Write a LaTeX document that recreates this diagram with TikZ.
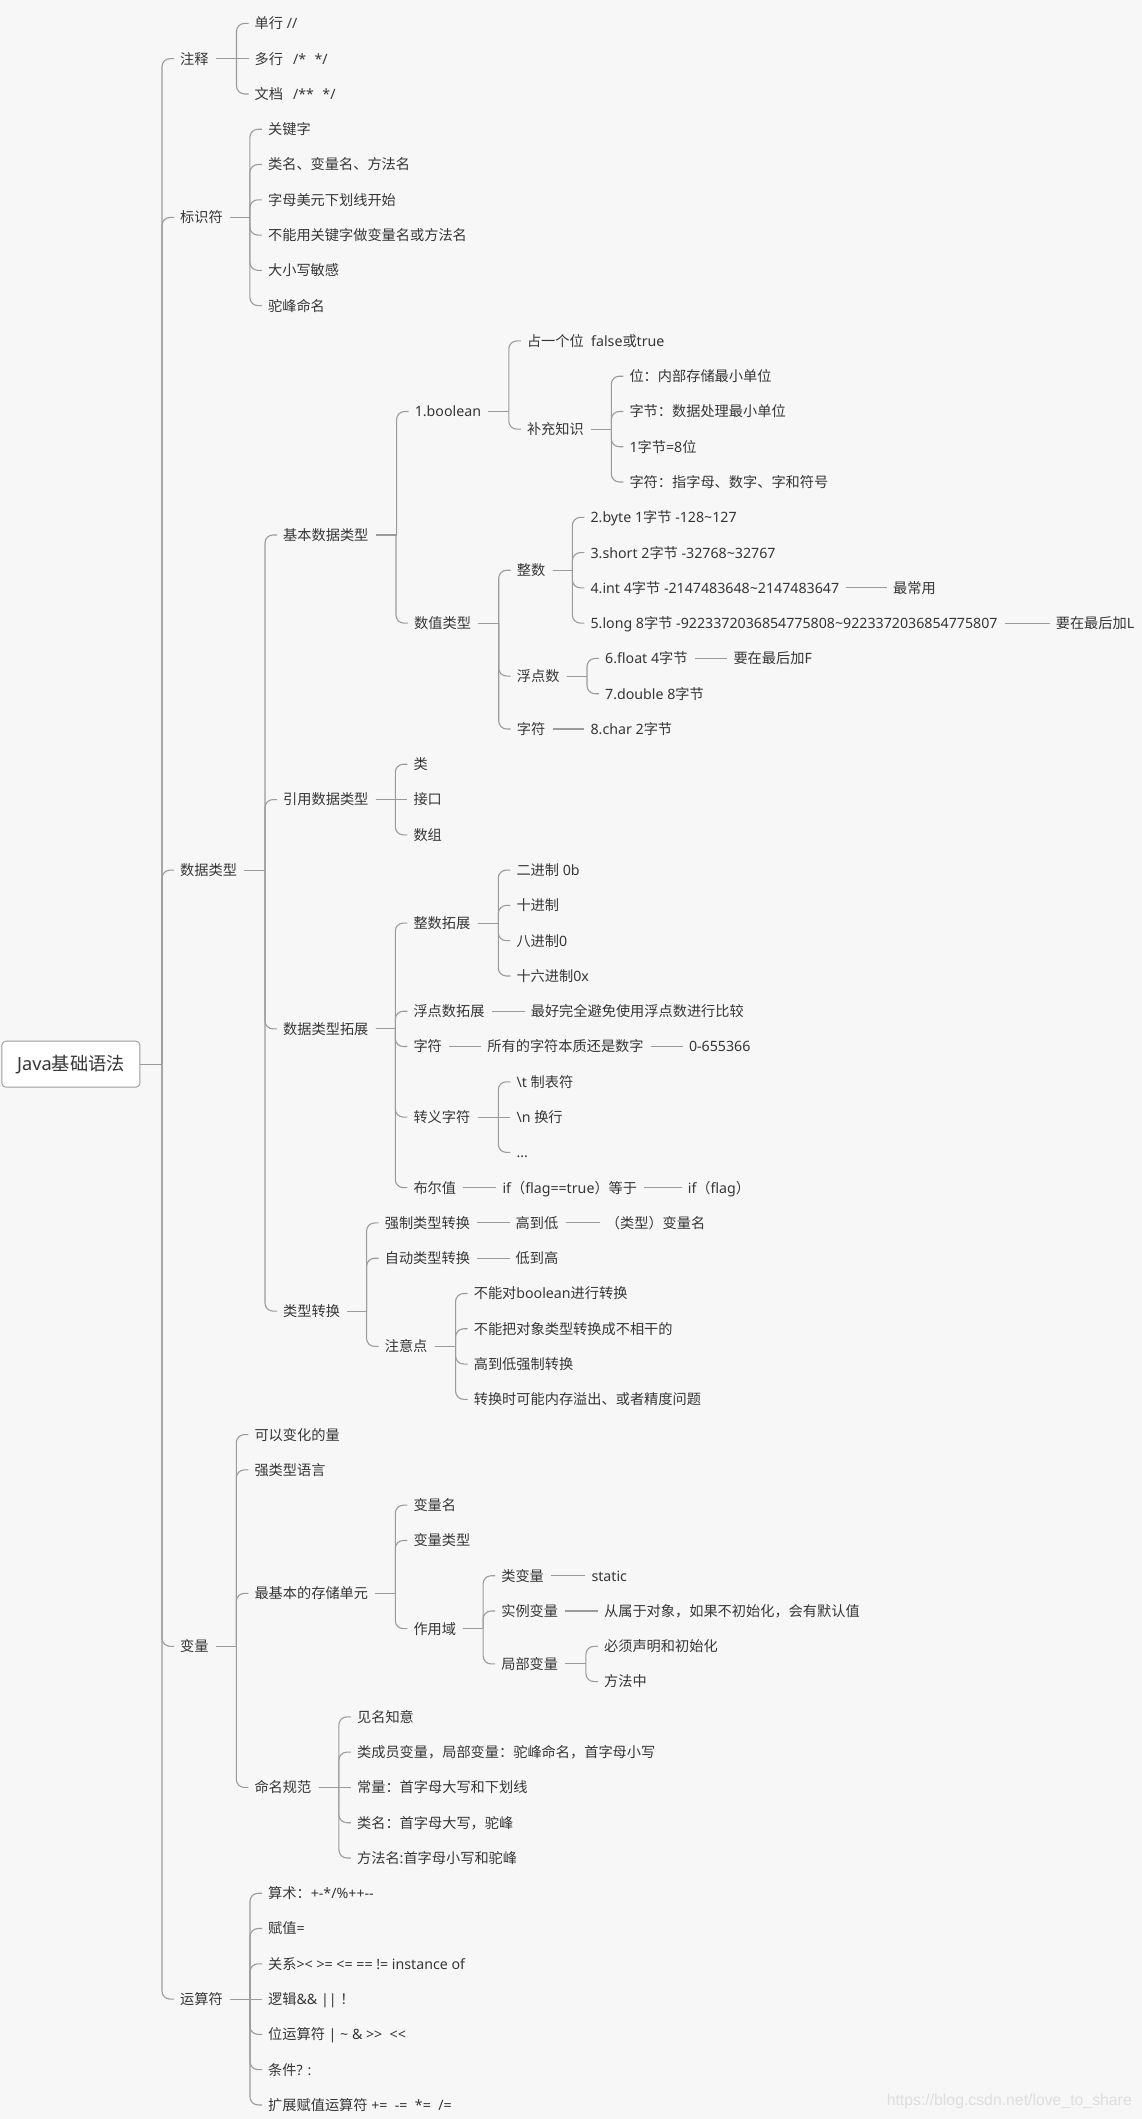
\documentclass[tikz,border=0pt]{standalone}
\usepackage{fontspec}
\newfontfamily\latinfont{Noto Sans}
\newfontfamily\cjkfont{Noto Sans CJK SC}
\newfontfamily\markfont{Liberation Sans}
\XeTeXinterchartokenstate=1
\chardef\cjkclass=7
\newcount\cjkcode
\def\setcjkrange#1#2{\cjkcode=#1 \loop\XeTeXcharclass\cjkcode=\cjkclass \advance\cjkcode by 1 \ifnum\cjkcode<#2 \repeat}
\setcjkrange{"3000}{"3040}
\setcjkrange{"4E00}{"A000}
\setcjkrange{"FF00}{"FFF0}
\XeTeXinterchartoks 0 \cjkclass = {\cjkfont}
\XeTeXinterchartoks 4095 \cjkclass = {\cjkfont}
\XeTeXinterchartoks \cjkclass 0 = {\latinfont}
\XeTeXinterchartoks \cjkclass 4095 = {\latinfont}
\definecolor{bgcol}{HTML}{F7F7F7}
\definecolor{txtcol}{HTML}{363636}
\definecolor{linecol}{HTML}{9B9B9B}
\definecolor{markcol}{HTML}{DEDEDE}
\tikzset{
  leaf/.style={anchor=west, inner sep=0pt, text=txtcol, text height=12pt, text depth=1.2pt,
    font=\latinfont\fontsize{14.2}{17}\selectfont},
  rootbox/.style={draw=linecol, line width=0.9pt, fill=white, rounded corners=4pt,
    minimum width=138pt, minimum height=46pt, inner sep=0pt, text=txtcol,
    font=\latinfont\fontsize{18.2}{22}\selectfont},
  branch/.style={draw=linecol, line width=1.1pt}
}
\begin{document}
\begin{tikzpicture}[x=1pt, y=-35.28pt]
  \path[use as bounding box, fill=bgcol] (0,-0.6633) rectangle (1142,59.399);

  \node[rootbox] (root) at (70.9,29.5) {Java基础语法};
  \node[leaf] (cmt) at (180,1) {注释};
  \node[leaf] (idf) at (180,5.5) {标识符};
  \node[leaf] (dt) at (180,24) {数据类型};
  \node[leaf] (var) at (180,46) {变量};
  \node[leaf] (op) at (180,56) {运算符};

  % comments and identifiers
  \node[leaf] (cmt1) at (254.5,0) {单行 //};
  \node[leaf] (cmt2) at (254.5,1) {多行\hspace{0.7em}/*\hspace{0.6em}*/};
  \node[leaf] (cmt3) at (254.5,2) {文档\hspace{0.7em}/**\hspace{0.6em}*/};
  \foreach \i/\lab in {1/{关键字},2/{类名、变量名、方法名},3/{字母美元下划线开始},
      4/{不能用关键字做变量名或方法名},5/{大小写敏感},6/{驼峰命名}}
    \node[leaf] (idf\i) at (267.9,2+\i) {\lab};

  % data types
  \node[leaf] (prim) at (283,14.5) {基本数据类型};
  \node[leaf] (ref) at (283,22) {引用数据类型};
  \node[leaf] (ext) at (283,28.5) {数据类型拓展};
  \node[leaf] (conv) at (283,36.5) {类型转换};

  \node[leaf] (bool) at (414.6,11) {1.boolean};
  \node[leaf] (num) at (414,17) {数值类型};
  \node[leaf] (bool1) at (526.8,9) {占一个位\ \ false或true};
  \node[leaf] (supp) at (526.8,11.5) {补充知识};
  \foreach \i/\lab in {1/{位：内部存储最小单位},2/{字节：数据处理最小单位},3/{1字节=8位},
      4/{字符：指字母、数字、字和符号}}
    \node[leaf] (supp\i) at (629.3,9+\i) {\lab};

  \node[leaf] (int) at (516.7,15.5) {整数};
  \node[leaf] (flt) at (516.7,18.5) {浮点数};
  \node[leaf] (chr) at (516.7,20) {字符};
  \node[leaf] (int1) at (590.4,14) {2.byte 1字节 -128\textasciitilde 127};
  \node[leaf] (int2) at (590.4,15) {3.short 2字节 -32768\textasciitilde 32767};
  \node[leaf] (int3) at (590.4,16) {4.int 4字节 -2147483648\textasciitilde 2147483647};
  \node[leaf] (int4) at (590.4,17) {5.long 8字节 -9223372036854775808\textasciitilde 9223372036854775807};
  \node[leaf] (int3n) at (893,16) {最常用};
  \node[leaf] (int4n) at (1055.6,17) {要在最后加L};
  \node[leaf] (flt1) at (605,18) {6.float 4字节};
  \node[leaf] (flt1n) at (733.3,18) {要在最后加F};
  \node[leaf] (flt2) at (605,19) {7.double 8字节};
  \node[leaf] (chr1) at (590.4,20) {8.char 2字节};

  \foreach \i/\lab in {1/{类},2/{接口},3/{数组}}
    \node[leaf] (ref\i) at (413.3,20+\i) {\lab};

  \node[leaf] (extint) at (413.3,25.5) {整数拓展};
  \node[leaf] (extflt) at (413.3,28) {浮点数拓展};
  \node[leaf] (extchr) at (413.3,29) {字符};
  \node[leaf] (esc) at (413.3,31) {转义字符};
  \node[leaf] (extbool) at (413.3,33) {布尔值};
  \foreach \i/\lab in {1/{二进制 0b},2/{十进制},3/{八进制0},4/{十六进制0x}}
    \node[leaf] (extint\i) at (516.3,23+\i) {\lab};
  \node[leaf] (extflt1) at (530.6,28) {最好完全避免使用浮点数进行比较};
  \node[leaf] (extchr1) at (487.2,29) {所有的字符本质还是数字};
  \node[leaf] (extchr2) at (688.8,29) {0-655366};
  \node[leaf] (esc1) at (516.3,30) {\textbackslash t 制表符};
  \node[leaf] (esc2) at (516.3,31) {\textbackslash n 换行};
  \node[leaf] (esc3) at (516.3,32) {...};
  \node[leaf] (extbool1) at (502.3,33) {if（flag==true）等于};
  \node[leaf] (extbool2) at (687.7,33) {if（flag）};

  \node[leaf] (cast) at (384.6,34) {强制类型转换};
  \node[leaf] (cast1) at (515.5,34) {高到低};
  \node[leaf] (cast2) at (605.7,34) {（类型）变量名};
  \node[leaf] (auto) at (384.6,35) {自动类型转换};
  \node[leaf] (auto1) at (515.5,35) {低到高};
  \node[leaf] (note) at (384.6,37.5) {注意点};
  \foreach \i/\lab in {1/{不能对boolean进行转换},2/{不能把对象类型转换成不相干的},
      3/{高到低强制转换},4/{转换时可能内存溢出、或者精度问题}}
    \node[leaf] (note\i) at (473.6,35+\i) {\lab};

  % variables
  \node[leaf] (var1) at (254.3,40) {可以变化的量};
  \node[leaf] (var2) at (254.3,41) {强类型语言};
  \node[leaf] (store) at (254.3,44.5) {最基本的存储单元};
  \node[leaf] (naming) at (254.3,50) {命名规范};
  \node[leaf] (store1) at (413.3,42) {变量名};
  \node[leaf] (store2) at (413.3,43) {变量类型};
  \node[leaf] (scope) at (413.3,45.5) {作用域};
  \node[leaf] (clsv) at (501.1,44) {类变量};
  \node[leaf] (clsv1) at (591.3,44) {static};
  \node[leaf] (insv) at (501.1,45) {实例变量};
  \node[leaf] (insv1) at (603.9,45) {从属于对象，如果不初始化，会有默认值};
  \node[leaf] (locv) at (501.1,46.5) {局部变量};
  \node[leaf] (locv1) at (603.9,46) {必须声明和初始化};
  \node[leaf] (locv2) at (603.9,47) {方法中};
  \foreach \i/\lab in {1/{见名知意},2/{类成员变量，局部变量：驼峰命名，首字母小写},
      3/{常量：首字母大写和下划线},4/{类名：首字母大写，驼峰},5/{方法名:首字母小写和驼峰}}
    \node[leaf] (name\i) at (356.9,47+\i) {\lab};

  % operators
  \node[leaf] (op1) at (268,53) {算术：+-*/\%++--};
  \node[leaf] (op2) at (268,54) {赋值=};
  \node[leaf] (op3) at (268,55) {关系>< >= <= == != instance of};
  \node[leaf] (op4) at (268,56) {逻辑\&\& || ！};
  \node[leaf] (op5) at (268,57) {位运算符 | \textasciitilde{} \& >>\ \ <<};
  \node[leaf] (op6) at (268,58) {条件? :};
  \node[leaf] (op7) at (268,59) {扩展赋值运算符 +=\ \ -=\ \ *=\ \ /=};

  \node[anchor=east, inner sep=0pt, text=markcol, font=\markfont\fontsize{15.8}{19}\selectfont]
    (wm) at (1132,58.91) {https://blog.csdn.net/love\_to\_share};

  % connectors
  \foreach \c in {cmt,idf,dt,var,op} {
    \draw[branch] (root.east) -- ([xshift=-18pt]\c.west |- root.east);
    \draw[branch, rounded corners=8pt] ([xshift=-18pt]\c.west |- root.east) |- ([xshift=-6pt]\c.west);
  }
  \foreach \p/\c in {cmt/cmt1,cmt/cmt3,idf/idf1,idf/idf2,idf/idf3,idf/idf4,idf/idf5,idf/idf6,
      dt/prim,dt/ref,dt/ext,dt/conv,prim/bool,prim/num,bool/bool1,bool/supp,
      supp/supp1,supp/supp2,supp/supp3,supp/supp4,num/int,num/flt,num/chr,
      int/int1,int/int2,int/int3,int/int4,flt/flt1,flt/flt2,ref/ref1,ref/ref3,
      ext/extint,ext/extflt,ext/extchr,ext/esc,ext/extbool,
      extint/extint1,extint/extint2,extint/extint3,extint/extint4,esc/esc1,esc/esc3,
      conv/cast,conv/auto,conv/note,note/note1,note/note2,note/note3,note/note4,
      var/var1,var/var2,var/store,var/naming,store/store1,store/store2,store/scope,
      scope/clsv,scope/insv,scope/locv,locv/locv1,locv/locv2,
      naming/name1,naming/name2,naming/name4,naming/name5,
      op/op1,op/op2,op/op3,op/op5,op/op6,op/op7} {
    \draw[branch] ([xshift=7pt]\p.east) -- ([xshift=-18pt]\c.west |- \p.east);
    \draw[branch, rounded corners=8pt] ([xshift=-18pt]\c.west |- \p.east) |- ([xshift=-6pt]\c.west);
  }
  \foreach \p/\c in {cmt/cmt2,ref/ref2,esc/esc2,naming/name3,op/op4,int3/int3n,int4/int4n,
      flt1/flt1n,chr/chr1,extflt/extflt1,extchr/extchr1,extchr1/extchr2,
      extbool/extbool1,extbool1/extbool2,cast/cast1,cast1/cast2,auto/auto1,
      clsv/clsv1,insv/insv1}
    \draw[branch] ([xshift=7pt]\p.east) -- ([xshift=-6pt]\c.west);
\end{tikzpicture}
\end{document}
